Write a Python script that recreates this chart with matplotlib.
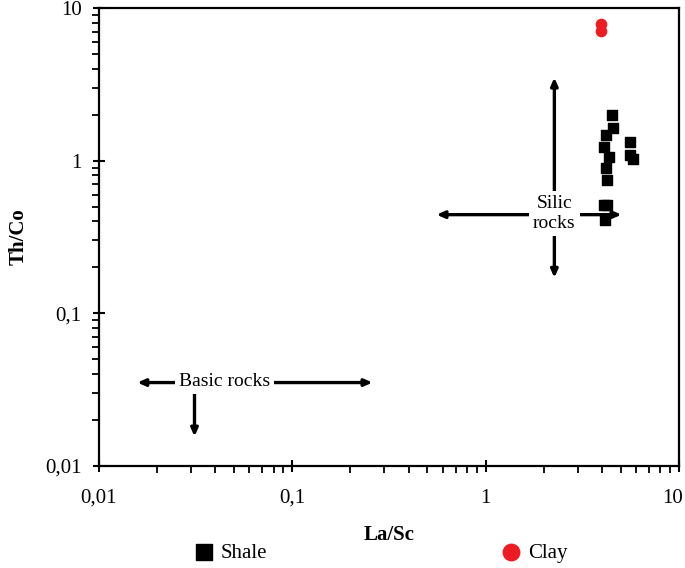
import numpy as np
import matplotlib
matplotlib.use("Agg")
import matplotlib.pyplot as plt
import matplotlib.ticker as mticker
import matplotlib.transforms as mtransforms

plt.rcParams['font.family'] = ['Liberation Serif', 'DejaVu Serif']

# La/Sc vs Th/Co values
shaleLaSc = [4.49, 4.54, 4.18, 4.08, 5.56, 4.33, 5.62, 5.76, 4.18, 4.23, 4.08, 4.23, 4.13]
shaleThCo = [2.00, 1.64, 1.48, 1.23, 1.33, 1.06, 1.09, 1.02, 0.89, 0.75, 0.51, 0.51, 0.41]
clayLaSc = [3.94, 3.98]
clayThCo = [7.8, 7.1]

tickValues = [0.01, 0.1, 1, 10]
tickLabels = ["0,01", "0,1", "1", "10"]

# field arrows: (x0, y0, x1, y1)
silicV = (2.27, 0.171, 2.27, 3.5)
silicH = (0.558, 0.443, 5.05, 0.443)
basicH = (0.0158, 0.0352, 0.26, 0.0352)
basicV = (0.0312, 0.0352, 0.0312, 0.0156)

fig = plt.figure(figsize=(6.85, 5.68), dpi=100)
ax = fig.add_axes([0.1445, 0.1796, 0.8465, 0.8063])
ax.set_xscale('log')
ax.set_yscale('log')
ax.set_xlim(0.01, 10)
ax.set_ylim(0.01, 10)

arrowKw = dict(arrowstyle='<|-|>,head_length=0.45,head_width=0.2', color='black', lw=2.4, shrinkA=0, shrinkB=0)
for x0, y0, x1, y1 in [silicV, silicH, basicH]:
  ax.annotate('', xy=(x1, y1), xytext=(x0, y0), arrowprops=arrowKw)
oneHead = dict(arrowKw, arrowstyle='-|>,head_length=0.45,head_width=0.2')
ax.annotate('', xy=(basicV[2], basicV[3]), xytext=(basicV[0], basicV[1]), arrowprops=oneHead)

bbox = dict(facecolor='white', edgecolor='none', pad=3)
ax.text(2.27, 0.45, "Silic\nrocks", ha='center', va='center', fontsize=14, linespacing=1.25, bbox=bbox, zorder=4)
ax.text(0.0447, 0.0357, "Basic rocks", ha='center', va='center', fontsize=14, bbox=bbox, zorder=4)

shale = ax.scatter(shaleLaSc, shaleThCo, marker='s', s=50, color='black', zorder=5, label='Shale')
clay = ax.scatter(clayLaSc, clayThCo, marker='o', s=55, color='#ED1C24', zorder=5, label='Clay')

ax.xaxis.set_major_locator(mticker.FixedLocator(tickValues))
ax.yaxis.set_major_locator(mticker.FixedLocator(tickValues))
ax.xaxis.set_major_formatter(mticker.FixedFormatter(tickLabels))
ax.yaxis.set_major_formatter(mticker.FixedFormatter(tickLabels))
ax.xaxis.set_minor_locator(mticker.LogLocator(base=10, subs=np.arange(2, 10)))
ax.yaxis.set_minor_locator(mticker.LogLocator(base=10, subs=np.arange(2, 10)))
ax.xaxis.set_minor_formatter(mticker.NullFormatter())
ax.yaxis.set_minor_formatter(mticker.NullFormatter())
ax.tick_params(which='major', direction='inout', length=9, width=1.5, labelsize=15)
ax.tick_params(axis='x', which='major', pad=12)
ax.tick_params(axis='y', which='major', pad=8)
ax.tick_params(which='minor', direction='out', length=5, width=1.3)
for s in ax.spines.values():
  s.set_linewidth(1.6)

# keep the last x label inside the figure
lastLabel = ax.get_xticklabels()[-1]
lastLabel.set_transform(lastLabel.get_transform() + mtransforms.ScaledTranslation(-6 / 100, 0, fig.dpi_scale_trans))

ax.set_xlabel("La/Sc", fontsize=15, fontweight='bold', labelpad=12)
ax.set_ylabel("Th/Co", fontsize=15, fontweight='bold', labelpad=12)

legKw = dict(loc='center left', frameon=False, fontsize=15, handletextpad=0.3, handlelength=1.0,
             borderpad=0, borderaxespad=0, markerscale=1.6)
fig.legend(handles=[shale], bbox_to_anchor=(0.283, 0.0264), **legKw)
fig.legend(handles=[clay], bbox_to_anchor=(0.731, 0.0264), **legKw)

fig.savefig("out.png", dpi=100)
